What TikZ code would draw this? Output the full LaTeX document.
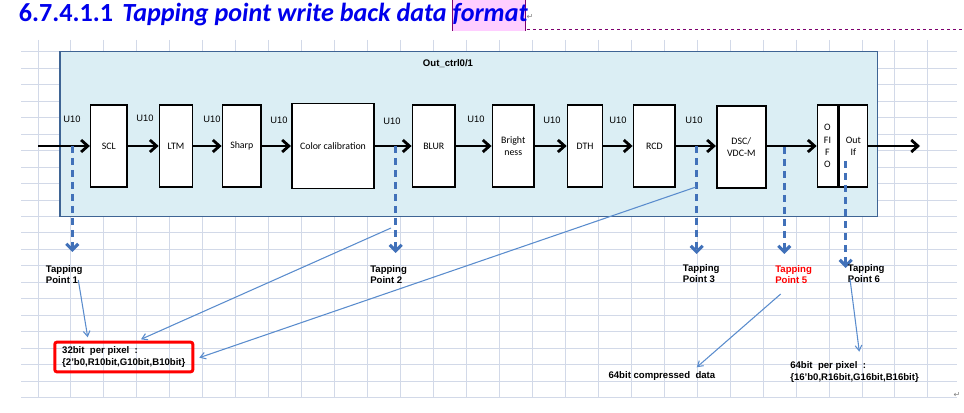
\documentclass[tikz,border=0pt]{standalone}
\usepackage{fontspec}
\setmainfont{Liberation Sans}
\newfontfamily\calfont{Carlito}
\newfontfamily\symfont{DejaVu Sans}
\usetikzlibrary{arrows.meta}

\definecolor{gridgray}{RGB}{210,217,232}
\definecolor{boxfill}{RGB}{219,238,244}
\definecolor{boxedge}{RGB}{62,100,148}
\definecolor{tapblue}{RGB}{65,113,185}
\definecolor{ptrblue}{RGB}{90,140,205}
\definecolor{titleblue}{RGB}{0,0,235}
\definecolor{hlpink}{RGB}{255,206,255}
\definecolor{cmtpurple}{RGB}{125,0,110}

\begin{document}
\begin{tikzpicture}[x=0.75pt, y=-0.75pt,
    blk/.style={draw, line width=1.2pt, fill=white, inner sep=0pt, align=center,
        minimum height=61.4pt, font=\calfont\fontsize{7.4}{9.2}\selectfont},
    flow/.style={line width=2.1pt, -{Straight Barb[length=5pt, width=9pt]}},
    tapline/.style={tapblue, line width=2.3pt, dash pattern=on 5.5pt off 3.5pt,
        -{Straight Barb[length=4.5pt, width=9pt]}},
    pointer/.style={ptrblue, line width=0.8pt, -{Straight Barb[length=4pt, width=5pt]}},
    ulab/.style={inner sep=0pt, font=\fontsize{7}{8}\selectfont},
    tlab/.style={inner sep=0pt, anchor=north west, align=left,
        font=\bfseries\fontsize{7.2}{8.4}\selectfont}]
    \useasboundingbox (0,0) rectangle (964,413);

    % Заголовок
    \fill[hlpink] (452,0) rectangle (525.7,31);
    \draw[cmtpurple, line width=0.5pt] (452,0) -- (452,31) (525.7,0) -- (525.7,31);
    \draw[cmtpurple, line width=0.75pt, dash pattern=on 2.5pt off 2pt] (527,30) -- (964,30);
    \node[anchor=base west, inner sep=0pt, text=titleblue,
        font=\calfont\bfseries\fontsize{19.6}{20}\selectfont] (title) at (18.6,22)
        {6.7.4.1.1\hspace{7pt}\itshape Tapping point write back data format};
    \node[text=gray, inner sep=0pt, font=\symfont\fontsize{6}{6}\selectfont] (ret1) at (530,17) {↵};
    \node[text=gray, inner sep=0pt, font=\symfont\fontsize{6}{6}\selectfont] (ret2) at (957,395) {↵};

    % Сетка
    \foreach \i in {0,...,27}
        \draw[gridgray, line width=0.75pt] ({38+32.96*\i},40) -- ({38+32.96*\i},398);
    \foreach \j in {0,...,21}
        \draw[gridgray, line width=0.75pt] (21,{51.7+16.48*\j}) -- (957,{51.7+16.48*\j});

    % Блок Out_ctrl
    \node[draw=boxedge, fill=boxfill, line width=1.1pt, minimum width=613.1pt,
        minimum height=123.4pt] (outctrl) at (468.5,134) {};
    \node[inner sep=0pt, font=\bfseries\fontsize{7.2}{8}\selectfont] (ctrlname) at (448,64) {Out\_ctrl0/1};

    % Модули
    \node[blk, minimum width=27.2pt] (scl) at (108.8,146) {SCL};
    \node[blk, minimum width=24.8pt] (ltm) at (176,146) {LTM};
    \node[blk, minimum width=29.1pt] (sharp) at (241.8,146) {Sharp};
    \node[blk, minimum width=61.9pt, minimum height=63.6pt] (color) at (333,146) {Color calibration};
    \node[blk, minimum width=32.1pt] (blur) at (433.8,146) {BLUR};
    \node[blk, minimum width=31.4pt] (bright) at (513.3,146) {Bright\\ness};
    \node[blk, minimum width=26.3pt] (dth) at (585,146) {DTH};
    \node[blk, minimum width=31.4pt] (rcd) at (654.3,146) {RCD};
    \node[blk, minimum width=36.9pt] (dsc) at (741.3,147) {DSC/\\VDC-M};
    \node[blk, minimum width=15.1pt] (ofifo) at (827.5,146) {O\\FI\\F\\O};
    \node[blk, minimum width=21.4pt] (outif) at (853.3,146) {Out\\If};

    % Поток данных
    \coordinate (in) at (38,146);
    \coordinate (out) at (920,146);
    \draw[flow] (in) -- (scl);
    \foreach \a/\b in {scl/ltm, ltm/sharp, sharp/color, color/blur, blur/bright,
        bright/dth, dth/rcd, rcd/dsc, dsc/ofifo}
        \draw[flow] (\a.east |- in) -- (\b.west |- in);
    \draw[flow] (outif) -- (out);

    % Метки U10
    \foreach \x/\y [count=\k] in {72/119, 145/118, 212/119, 279/120, 392/121,
        476/119, 552/120, 618/120, 694/120}
        \node[ulab] (u\k) at (\x,\y) {U10};

    % Точки отвода
    \foreach \n/\x/\ya/\yb in {1/72.3/146/252, 2/395.7/146/253, 3/696.7/146/254,
        5/784.3/147/254, 6/845.7/161/268}
        \draw[tapline] (\x,\ya) coordinate (t\n) -- (\x,\yb) coordinate (t\n e);

    \node[tlab] (tp1) at (45.7,265) {Tapping\\Point 1};
    \node[tlab] (tp2) at (370,265) {Tapping\\Point 2};
    \node[tlab] (tp3) at (682.7,264) {Tapping\\Point 3};
    \node[tlab, text=red] (tp5) at (775,265) {Tapping\\Point 5};
    \node[tlab] (tp6) at (847.7,264) {Tapping\\Point 6};

    % Форматы
    \node[draw=red, line width=2.2pt, rounded corners=1.5pt, minimum width=103.5pt,
        minimum height=22.2pt, align=left, inner sep=0pt,
        font=\bfseries\fontsize{7.2}{8.8}\selectfont] (fmt32) at (123.8,357)
        {32bit\ \ per pixel\ \ :\\\{2'b0,R10bit,G10bit,B10bit\}};
    \node[inner sep=0pt, anchor=west, font=\bfseries\fontsize{7.2}{8}\selectfont] (cmp)
        at (608.3,375.7) {64bit compressed\ \ data};
    \node[tlab, font=\bfseries\fontsize{7.2}{9}\selectfont] (fmt64) at (790,361)
        {64bit\ \ per pixel\ \ :\\\{16'b0,R16bit,G16bit,B16bit\}};

    % Стрелки к форматам
    \coordinate (p1) at (78.3,280);   \coordinate (q1) at (87.7,337.3);
    \coordinate (p2) at (391,228);    \coordinate (q2) at (141,339.3);
    \coordinate (p3) at (696,187);    \coordinate (q3) at (199.3,357.7);
    \coordinate (p4) at (780.7,294);  \coordinate (q4) at (696.7,367.3);
    \coordinate (p5) at (850,279);    \coordinate (q5) at (859.3,351.7);
    \foreach \k in {1,...,5}
        \draw[pointer] (p\k) -- (q\k);
\end{tikzpicture}
\end{document}
